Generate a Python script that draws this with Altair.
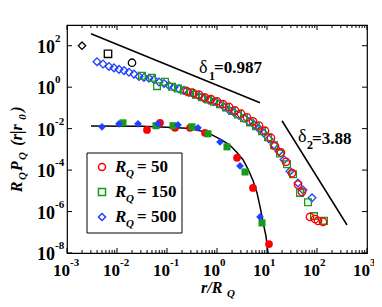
import altair as alt
import pandas as pd
import numpy as np

W, H = 300, 228
RED, GREEN, BLUE = "#ff0000", "#1a9a1a", "#2040ff"
FONT = "Liberation Serif"

# ---- data (log10 values) ----
# open markers, upper curve
o500_lx = [-2.40, -2.28, -2.16, -2.06, -1.96, -1.86, -1.76, -1.66, -1.56, -1.46, -1.36, -1.26,
           -1.16, -1.06, -0.96, -0.86, -0.76, -0.66, -0.56, -0.46, -0.36, -0.26, -0.16, -0.06,
           0.04, 0.14, 0.24, 0.34, 0.44, 0.54, 0.64, 0.74, 0.84, 0.94, 1.04, 1.14, 1.24, 1.34,
           1.46, 1.62, 1.72, 1.90]
o500_ly = [1.23, 1.12, 1.00, 0.93, 0.86, 0.80, 0.72, 0.63, 0.52, 0.47, 0.43, 0.36,
           0.25, 0.18, 0.08, 0.00, -0.08, -0.15, -0.26, -0.34, -0.44, -0.55, -0.63, -0.70,
           -0.80, -0.95, -1.10, -1.22, -1.36, -1.50, -1.66, -1.80, -2.00, -2.22, -2.50, -2.78,
           -3.10, -3.50, -4.05, -4.62, -4.96, -5.34]
o150_lx = [-1.50, -1.30, -1.20, -1.04, -0.90, -0.78, -0.66, -0.54, -0.42, -0.30, -0.18, -0.06,
           0.06, 0.18, 0.30, 0.42, 0.54, 0.66, 0.78, 0.90, 1.02, 1.14, 1.26, 1.40, 1.52, 1.66,
           1.82, 1.94, 2.14]
o150_ly = [0.55, 0.45, 0.05, 0.26, 0.02, -0.06, -0.16, -0.25, -0.36, -0.48, -0.60, -0.70,
           -0.82, -0.98, -1.15, -1.32, -1.50, -1.70, -1.88, -2.12, -2.42, -2.80, -3.20, -3.72,
           -4.20, -5.10, -5.55, -6.22, -6.45]
o50_lx = [-0.60, -0.48, -0.36, -0.24, -0.12, 0.00, 0.12, 0.24, 0.36, 0.48, 0.60, 0.72, 0.84,
          0.96, 1.08, 1.16, 1.28, 1.38, 1.50, 1.62, 1.70, 1.86, 1.96, 2.02, 2.12]
o50_ly = [-0.20, -0.28, -0.36, -0.50, -0.58, -0.68, -0.82, -0.95, -1.12, -1.28, -1.45, -1.65,
          -1.85, -2.10, -2.45, -2.85, -3.15, -3.60, -4.15, -4.70, -5.05, -6.26, -6.36, -6.45, -6.50]

# filled markers, lower curve
f500_lx = [-2.30, -1.96, -1.58, -1.18, -0.78, -0.38, 0.06, 0.46, 0.86]
f500_ly = [-1.91, -1.77, -1.77, -1.77, -1.82, -1.96, -2.64, -3.80, -6.26]
f150_lx = [-1.88, -1.22, -0.88, -0.50, -0.18, 0.20, 0.56, 0.90]
f150_ly = [-1.72, -1.86, -1.86, -1.91, -2.25, -2.88, -4.09, -6.55]
f50_lx = [-1.40, -1.14, -0.84, -0.54, -0.24, 0.40, 0.72, 1.04]
f50_ly = [-2.06, -1.72, -1.96, -1.96, -2.20, -3.41, -4.86, -7.57]

# black open markers (upper left)
blk_lx = [-2.70, -2.18, -1.70]
blk_ly = [2.00, 1.61, 1.18]
blk_shape = ["diamond", "square", "circle"]

# fitted curve through the lower set
fit_lx = [-2.52, -1.5, -1.0, -0.6, -0.3, -0.1, 0.1, 0.26, 0.4, 0.52, 0.62, 0.72, 0.8, 0.86,
          0.92, 0.98, 1.02]
fit_ly = [-1.87, -1.89, -1.93, -1.98, -2.12, -2.30, -2.55, -2.80, -3.15, -3.5, -3.95, -4.5,
          -5.1, -5.75, -6.5, -7.2, -8.0]

# slope guide lines
d1_lx, d1_ly = [-2.52, 0.86], [2.58, -0.75]
d2_lx, d2_ly = [1.30, 2.60], [-1.62, -6.65]

# axis ticks
x_major_exp = [-3, -2, -1, 0, 1, 2, 3]
y_major_exp = [-8, -6, -4, -2, 0, 2]
minor_mult = [2, 3, 4, 5, 6, 7, 8, 9]


def mk(lx, ly):
    return pd.DataFrame({"x": np.power(10.0, lx), "y": np.power(10.0, ly)})


xs = alt.Scale(type="log", domain=[1e-3, 1e3], nice=False)
ys = alt.Scale(type="log", domain=[1e-8, 1e3], nice=False)
X = alt.X("x:Q", scale=xs, axis=None)
Y = alt.Y("y:Q", scale=ys, axis=None)

layers = []

# ticks
xmaj = pd.DataFrame({"x": [10.0 ** e for e in x_major_exp]})
xmin = pd.DataFrame({"x": [m * 10.0 ** e for e in x_major_exp[:-1] for m in minor_mult]})
ymaj = pd.DataFrame({"y": [10.0 ** e for e in y_major_exp]})
for d, L in [(xmaj, 5), (xmin, 3)]:
    layers.append(alt.Chart(d).mark_rule(color="black", strokeWidth=1).encode(
        x=X, y=alt.value(H), y2=alt.value(H - L)))
    layers.append(alt.Chart(d).mark_rule(color="black", strokeWidth=1).encode(
        x=X, y=alt.value(0), y2=alt.value(L)))
layers.append(alt.Chart(ymaj).mark_rule(color="black", strokeWidth=1).encode(
    y=Y, x=alt.value(0), x2=alt.value(5)))
layers.append(alt.Chart(ymaj).mark_rule(color="black", strokeWidth=1).encode(
    y=Y, x=alt.value(W), x2=alt.value(W - 5)))

# tick labels
xl = xmaj.assign(base="10", ex=[str(e) for e in x_major_exp])
layers.append(alt.Chart(xl).mark_text(font=FONT, fontWeight="bold", fontSize=17,
                                      align="right", baseline="middle", dx=3).encode(
    x=X, y=alt.value(H + 18), text="base:N"))
layers.append(alt.Chart(xl).mark_text(font=FONT, fontWeight="bold", fontSize=11,
                                      align="left", baseline="middle", dx=3).encode(
    x=X, y=alt.value(H + 10), text="ex:N"))
yl = ymaj.assign(base="10", ex=[str(e) for e in y_major_exp])
layers.append(alt.Chart(yl).mark_text(font=FONT, fontWeight="bold", fontSize=18,
                                      align="right", baseline="middle", dy=2).encode(
    y=Y, x=alt.value(-12), text="base:N"))
layers.append(alt.Chart(yl).mark_text(font=FONT, fontWeight="bold", fontSize=11,
                                      align="left", baseline="middle", dy=-7).encode(
    y=Y, x=alt.value(-12), text="ex:N"))

# lines
for lx, ly in [(fit_lx, fit_ly), (d1_lx, d1_ly), (d2_lx, d2_ly)]:
    layers.append(alt.Chart(mk(lx, ly)).mark_line(color="black", strokeWidth=1.5,
                                                  clip=True).encode(x=X, y=Y))

# open markers
for lx, ly, col, shp, sz in [(o500_lx, o500_ly, BLUE, "diamond", 60),
                             (o150_lx, o150_ly, GREEN, "square", 45),
                             (o50_lx, o50_ly, RED, "circle", 55)]:
    layers.append(alt.Chart(mk(lx, ly)).mark_point(shape=shp, filled=False, color=col,
                                                   size=sz, strokeWidth=1.3, opacity=1,
                                                   clip=True).encode(x=X, y=Y))
# filled markers
for lx, ly, col, shp, sz in [(f50_lx, f50_ly, RED, "circle", 60),
                             (f150_lx, f150_ly, GREEN, "square", 50),
                             (f500_lx, f500_ly, BLUE, "diamond", 60)]:
    layers.append(alt.Chart(mk(lx, ly)).mark_point(shape=shp, filled=True, color=col,
                                                   size=sz, opacity=1,
                                                   clip=True).encode(x=X, y=Y))
# black markers
bk = mk(blk_lx, blk_ly).assign(s=blk_shape)
for shp in blk_shape:
    layers.append(alt.Chart(bk[bk.s == shp]).mark_point(shape=shp, filled=False, color="black",
                                                        size=55, strokeWidth=1.3,
                                                        opacity=1).encode(x=X, y=Y))


def txt(s, x, y, size=17, style="normal", weight="bold", angle=0, align="left"):
    return alt.Chart(pd.DataFrame({"t": [s]})).mark_text(
        font=FONT, fontSize=size, fontStyle=style, fontWeight=weight, angle=angle,
        align=align, baseline="middle").encode(x=alt.value(x), y=alt.value(y), text="t:N")


# slope annotations
layers += [txt("δ", 132, 43, 18, weight="normal"), txt("1", 142, 51, 12),
           txt("=0.987", 147, 43, 17),
           txt("δ", 231, 112, 18, weight="normal"), txt("2", 240, 120, 12),
           txt("=3.88", 245, 114, 17)]

# axis titles
layers += [txt("r/R", 134, 263, 16, "italic"), txt("Q", 160, 269, 11, "italic")]
layers += [txt("R", -50, 162, 16, "italic", angle=270, align="center"),
           txt("Q", -44, 151, 11, "italic", angle=270, align="center"),
           txt("P", -50, 141, 16, "italic", angle=270, align="center"),
           txt("Q", -44, 131, 11, "italic", angle=270, align="center"),
           txt("(r|r", -50, 110, 16, "italic", angle=270, align="center"),
           txt("0", -44, 92, 11, "italic", angle=270, align="center"),
           txt(")", -50, 84, 16, "italic", angle=270, align="center")]

# legend
layers.append(alt.Chart(pd.DataFrame({"a": [0]})).mark_rect(
    fill="white", stroke="black", strokeWidth=1).encode(
    x=alt.value(20), x2=alt.value(115), y=alt.value(128), y2=alt.value(208)))
leg_labels = ["= 50", "= 150", "= 500"]
leg_cols = [RED, GREEN, BLUE]
leg_shapes = ["circle", "square", "diamond"]
for i, (lab, col, shp) in enumerate(zip(leg_labels, leg_cols, leg_shapes)):
    yy = 142 + i * 25
    layers.append(alt.Chart(pd.DataFrame({"a": [0]})).mark_point(
        shape=shp, filled=False, color=col, size=50, strokeWidth=1.5, opacity=1).encode(
        x=alt.value(35), y=alt.value(yy)))
    layers += [txt("R", 48, yy, 17, "italic"), txt("Q", 59, yy + 7, 11, "italic"),
               txt(lab, 70, yy, 17)]

chart = alt.layer(*layers).properties(
    width=W, height=H,
    autosize=alt.AutoSizeParams(type="none"),
    padding={"left": 59, "top": 17, "right": 7, "bottom": 46},
).configure_view(stroke="black", strokeWidth=1.2)

chart.save("out.html", embed_options={"renderer": "svg", "actions": False})
